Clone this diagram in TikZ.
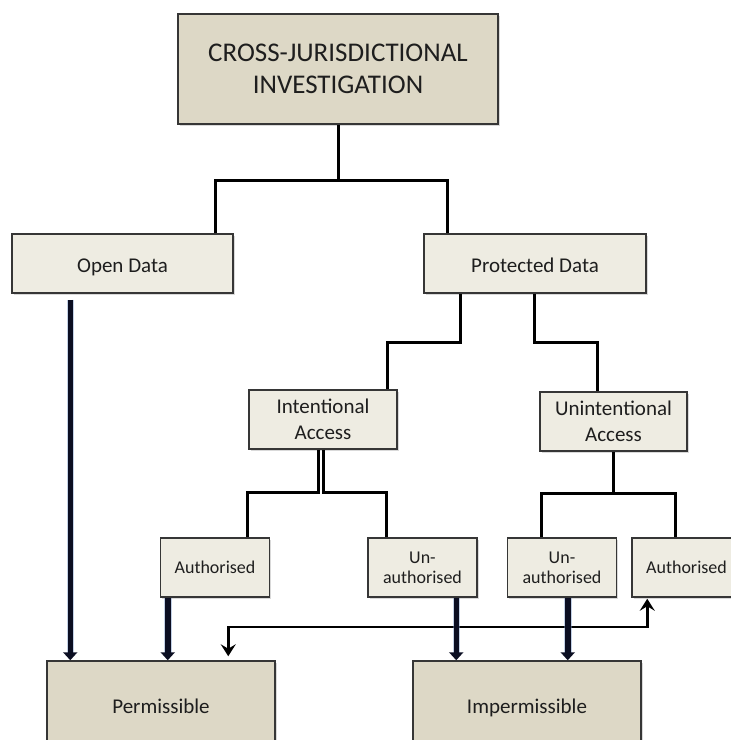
\documentclass[tikz,border=0pt]{standalone}
\usepackage{fontspec}
\setmainfont{Carlito}
\usetikzlibrary{arrows.meta,shadows}
\definecolor{tanfill}{HTML}{DDD8C6}
\definecolor{lightfill}{HTML}{EEECE2}
\definecolor{edgegrey}{HTML}{363636}
\definecolor{ink}{HTML}{1E1E1E}
\definecolor{navy}{HTML}{0B0E22}
\definecolor{halo}{HTML}{7A98C8}

\begin{document}
\begin{tikzpicture}[x=1pt,y=-1pt,
  box/.style={draw=edgegrey, line width=1.5pt, text=ink, inner sep=0pt, align=center,
    drop shadow={shadow xshift=1.5pt,shadow yshift=-1.5pt,opacity=0.3}},
  bigbox/.style={box, fill=tanfill, font=\fontsize{21}{26}\selectfont},
  midbox/.style={box, fill=lightfill, font=\fontsize{21}{26}\selectfont},
  smallbox/.style={box, fill=lightfill, font=\fontsize{18}{20}\selectfont,
    minimum width=109pt, minimum height=59pt},
  outbox/.style={bigbox, minimum width=228pt, minimum height=90pt,
    text height=17pt, text depth=2pt},
  conn/.style={draw=black, line width=3pt, line join=miter},
  flow/.style={draw=navy, line width=5.5pt, -{Triangle[width=14pt,length=8pt]},
    preaction={draw=halo, line width=7.5pt, opacity=0.45, -, shorten >=7pt}},
  link/.style={draw=black, line width=2.8pt, line join=miter,
    {Stealth[length=12pt,width=15pt,inset=4.5pt]}-{Stealth[length=12pt,width=15pt,inset=4.5pt]}}
]
\useasboundingbox (0,0) rectangle (731,740);
\clip (0,0) rectangle (731,740);

% boxes
\node[bigbox, minimum width=320pt, minimum height=110pt,
  font=\fontsize{27}{32}\selectfont] (top) at (338,69) {CROSS-JURISDICTIONAL\\INVESTIGATION};
\node[midbox, minimum width=221pt, minimum height=59pt, text height=19pt, text depth=1pt]
  (open) at (122.5,263.5) {Open Data};
\node[midbox, minimum width=222pt, minimum height=59pt, text height=19pt, text depth=1pt]
  (prot) at (535,263.5) {Protected Data};
\node[midbox, minimum width=148pt, minimum height=59pt] (inten) at (323,419.5) {Intentional\\Access};
\node[midbox, minimum width=147pt, minimum height=59pt] (uninten) at (613.5,421.5) {Unintentional\\Access};
\node[smallbox] (auth1) at (215,567.5) {Authorised};
\node[smallbox] (unauth1) at (422.5,567.5) {Un-\\authorised};
\node[smallbox] (unauth2) at (562,567.5) {Un-\\authorised};
\node[smallbox] (auth2) at (686.5,567.5) {Authorised};
\node[outbox] (perm) at (161,706) {Permissible};
\node[outbox] (imperm) at (527,706) {Impermissible};

% junction points of the tree connectors
\coordinate (j1) at (338,180);
\coordinate (j2) at (424,342);
\coordinate (j3) at (566,342);
\coordinate (j4) at (280,492);
\coordinate (j5) at (360,492);
\coordinate (j6) at (613.5,493);
\coordinate (j7) at (440,627);

% tree connectors
\draw[conn] (top.south) -- (j1);
\draw[conn] ([xshift=-18pt]open.north east) |- (j1) -| ([xshift=24pt]prot.north west);
\draw[conn] ([xshift=37pt]prot.south west) |- (j2) -| ([xshift=-10pt]inten.north east);
\draw[conn] ([xshift=111pt]prot.south west) |- (j3) -| ([xshift=58pt]uninten.north west);
\draw[conn] ([xshift=-5pt]inten.south) |- (j4) -| ([xshift=88pt]auth1.north west);
\draw[conn] (inten.south) |- (j5) -| ([xshift=19pt]unauth1.north west);
\draw[conn] (uninten.south) -- (j6);
\draw[conn] ([xshift=35pt]unauth2.north west) |- (j6) -| ([xshift=44pt]auth2.north west);

% two-way link between Permissible and the unintentional authorised case
\draw[link] ([xshift=182pt,yshift=4pt]perm.north west) |- (j7) -| ([xshift=16pt,yshift=-1pt]auth2.south west);

% outcome flows
\coordinate (fa) at ([xshift=59pt,yshift=-6pt]open.south west);
\coordinate (fb) at ([xshift=8pt]auth1.south west);
\coordinate (fc) at ([xshift=89pt]unauth1.south west);
\coordinate (fd) at ([xshift=61pt]unauth2.south west);
\draw[flow] (fa) -- (fa |- perm.north);
\draw[flow] (fb) -- (fb |- perm.north);
\draw[flow] (fc) -- (fc |- imperm.north);
\draw[flow] (fd) -- (fd |- imperm.north);
\end{tikzpicture}
\end{document}
